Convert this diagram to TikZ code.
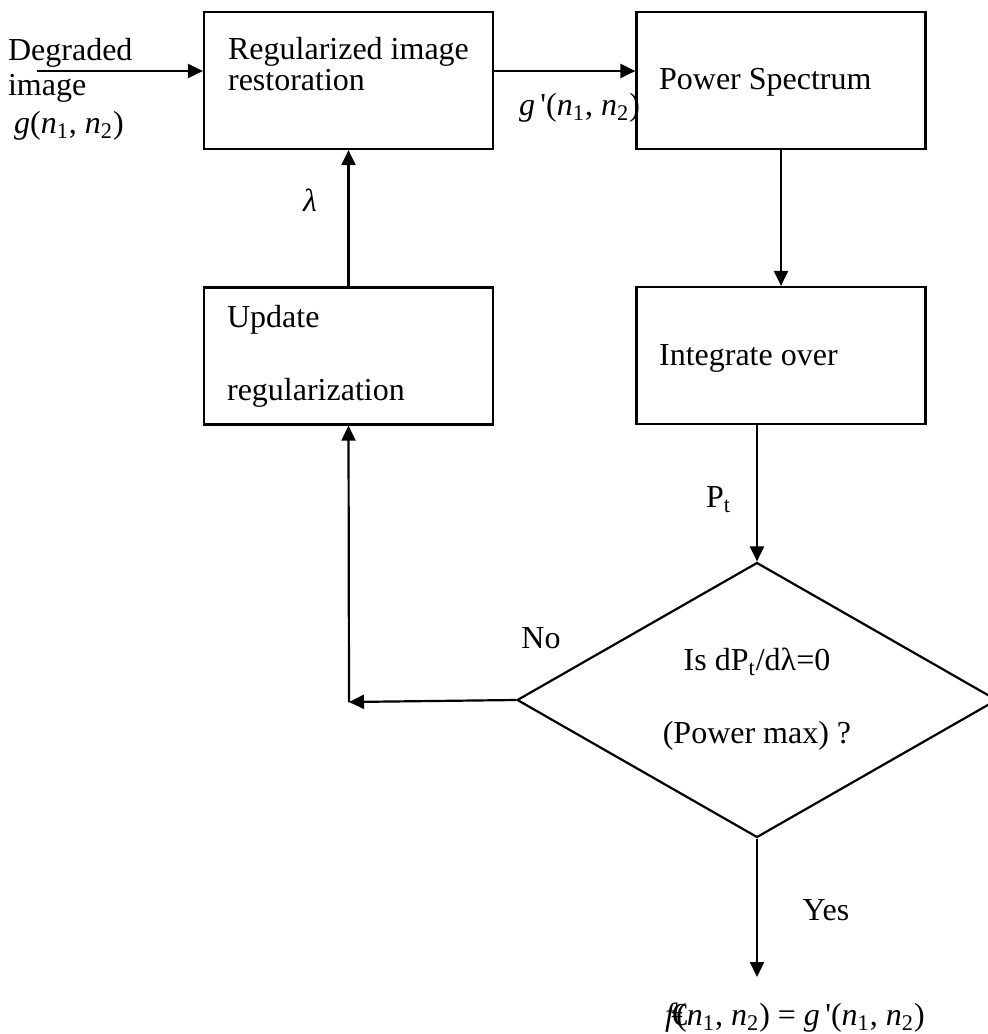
\documentclass[tikz,border=0pt]{standalone}
\usepackage{fontspec}
\setmainfont{Liberation Serif}
\usetikzlibrary{arrows.meta,shapes.geometric}

\begin{document}
\begin{tikzpicture}[x=0.5pt,y=-0.5pt,line width=1.1pt,
  font=\fontsize{16pt}{19pt}\selectfont,
  blk/.style={draw,rectangle,minimum width=144.5pt,minimum height=68.5pt,inner sep=0pt},
  txt/.style={anchor=base west,inner sep=0pt},
  mid/.style={anchor=base,inner sep=0pt},
  lbl/.style={inner sep=0pt},
  arr/.style={-{Triangle[length=7.5pt,width=7pt]}}]
\useasboundingbox (0,0) rectangle (987,1034);
% blocks
\node[blk] (restore) at (348.5,80.5) {};
\node[blk] (spectrum) at (781,80.5) {};
\node[blk] (update) at (348.5,356) {};
\node[blk] (integrate) at (781,355.5) {};
\node[draw,diamond,minimum width=240pt,minimum height=137.5pt,inner sep=0pt] (test) at (757,700) {};
% block texts
\node[txt] (restore1) at (227,59) {Regularized image};
\node[txt] (restore2) at (227,90) {restoration};
\node[txt] (spectrumtxt) at (658,89) {Power Spectrum};
\node[txt] (update1) at (226,327) {Update};
\node[txt] (update2) at (226,400) {regularization};
\node[txt] (integratetxt) at (658,365) {Integrate over};
\node[mid] (test1) at (757,670) {Is dP\textsubscript{t}/dλ=0};
\node[mid] (test2) at (757,743) {(Power max) ?};
% signal labels
\node[txt] (deg1) at (7,60) {Degraded};
\node[txt] (deg2) at (7,95) {image};
\node[txt] (gin) at (13,133) {\textit{g}(\textit{n}\textsubscript{1}, \textit{n}\textsubscript{2})};
\node[txt] (gout) at (518,115) {\textit{g}\,\textquotesingle(\textit{n}\textsubscript{1}, \textit{n}\textsubscript{2})};
\node[lbl] (lam) at (310,200) {\textit{λ}};
\node[txt] (pt) at (705,507) {P\textsubscript{t}};
\node[lbl] (no) at (541,638) {No};
\node[lbl] (yes) at (826,910) {Yes};
\node[mid] (result) at (795,1025) {\textit{f}\kern-0.2em€\kern-0.35em(\textit{n}\textsubscript{1}, \textit{n}\textsubscript{2}) = \textit{g}\,\textquotesingle(\textit{n}\textsubscript{1}, \textit{n}\textsubscript{2})};
% connectors
\coordinate (src) at (37,71);
\coordinate (bend) at (349,702);
\coordinate (done) at (757,977);
\draw[arr] (src) -- (src -| restore.west);
\draw[arr] (restore.east |- src) -- (spectrum.west |- src);
\draw[arr] (update.north) -- (restore.south);
\draw[arr] (spectrum.south) -- (integrate.north);
\draw[arr] (integrate.south -| test.north) -- (test.north);
\draw[arr] (test.west) -- (bend);
\draw[arr] (bend) -- (update.south);
\draw[arr] (test.south) -- (done);
\end{tikzpicture}
\end{document}
